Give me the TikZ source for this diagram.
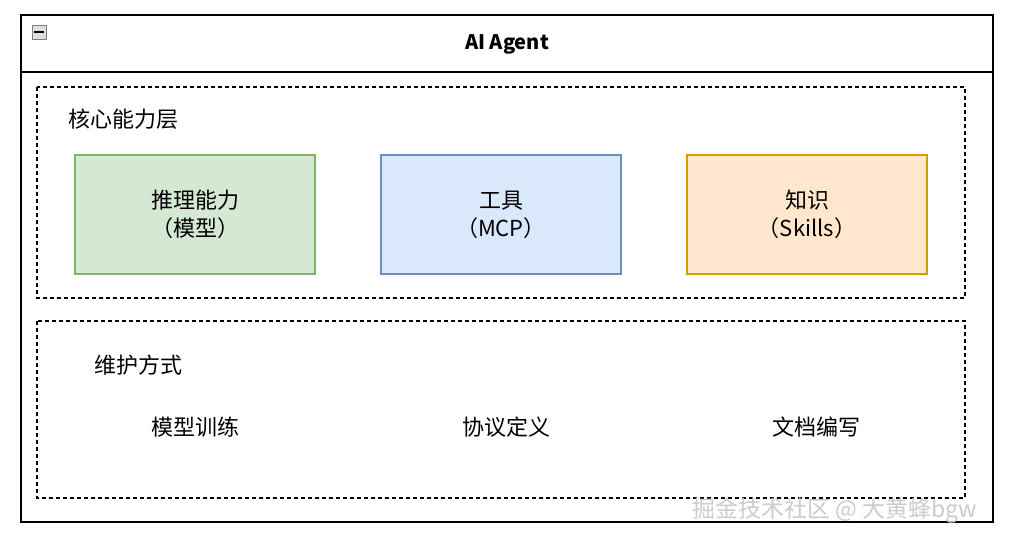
\documentclass[tikz,border=0pt]{standalone}
\usepackage{fontspec}
\setmainfont{Noto Sans CJK SC}
\begin{document}
\begin{tikzpicture}[x=1pt,y=-1pt,
  box/.style={line width=1.2pt,minimum width=240pt,minimum height=119pt,align=center,font=\fontsize{22}{28}\selectfont},
  dbox/.style={draw,line width=1.2pt,dash pattern=on 4pt off 3pt},
  lbl/.style={font=\fontsize{22}{26}\selectfont}]
\useasboundingbox[fill=white] (0,0) rectangle (1020,544);
\draw[line width=1.2pt] (21,15) rectangle (993,522);
\draw[line width=1.2pt] (21,72) -- (993,72);
\node[draw=gray,fill=gray!25,minimum size=14pt,inner sep=0pt] (mini) at (39,32) {};
\draw[line width=1.2pt] (34,32) -- (44,32);
\node[font=\fontsize{20}{24}\selectfont\bfseries] (title) at (507,44) {AI Agent};
\draw[dbox] (37,87) rectangle (965,298);
\draw[dbox] (37,321) rectangle (965,498);
\node[lbl,anchor=west,inner sep=0pt] (l1) at (68,119) {核心能力层};
\node[lbl,anchor=west,inner sep=0pt] (l2) at (94,365) {维护方式};
\node[box,fill={rgb,255:red,213;green,232;blue,212},draw={rgb,255:red,130;green,179;blue,102}] (m) at (195,214.5) {推理能力\\（模型）};
\node[box,fill={rgb,255:red,218;green,232;blue,252},draw={rgb,255:red,108;green,142;blue,191}] (t) at (501,214.5) {工具\\（MCP）};
\node[box,fill={rgb,255:red,255;green,230;blue,204},draw={rgb,255:red,215;green,155;blue,0}] (k) at (807,214.5) {知识\\（Skills）};
\node[lbl] (a) at (195,427) {模型训练};
\node[lbl] (b) at (506,427) {协议定义};
\node[lbl] (c) at (816,427) {文档编写};
\node[font=\fontsize{23}{26}\selectfont,text=gray!40,anchor=west,inner sep=0pt] (wm) at (692,511) {掘金技术社区 @ 大黄蜂bgw};
\end{tikzpicture}
\end{document}
